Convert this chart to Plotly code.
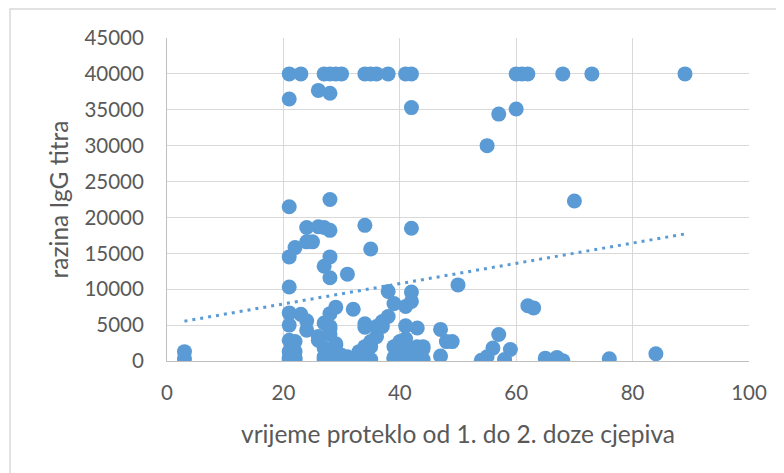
import plotly.graph_objects as go

# days between 1st and 2nd dose, IgG titre level
days = [3, 3,
        21, 21, 21, 21, 21, 21, 21, 21, 21, 21, 21,
        22, 22, 22, 22, 22,
        23, 23,
        24, 24, 24, 24,
        25,
        26, 26, 26, 26,
        27, 27, 27, 27, 27, 27, 27,
        28, 28, 28, 28, 28, 28, 28, 28, 28, 28, 28,
        29, 29, 29, 29, 29,
        30, 30,
        31, 31, 31,
        32,
        33, 33,
        34, 34, 34, 34, 34,
        35, 35, 35, 35, 35,
        36, 36, 36,
        37, 37,
        38, 38, 38,
        39, 39, 39, 39,
        40, 40, 40,
        41, 41, 41, 41, 41, 41,
        42, 42, 42, 42, 42, 42, 42, 42,
        43, 43, 43,
        44, 44, 44,
        47, 47,
        48, 49, 50,
        54, 55, 55, 56, 57, 57, 58, 59,
        60, 60, 61, 62, 62, 63,
        65, 67, 68, 68, 70, 73, 76, 84, 89]
titre = [1300, 300,
         40000, 36500, 21500, 14500, 10300, 6700, 5000, 2900, 1300, 500, 200,
         15800, 2700, 1300, 500, 200,
         40000, 6500,
         18600, 16600, 5600, 4300,
         16600,
         37700, 18700, 3400, 2900,
         40000, 18600, 13200, 5300, 1800, 600, 200,
         40000, 37300, 22500, 18200, 14500, 11600, 6600, 4800, 4500, 3700, 400,
         40000, 7500, 2400, 2200, 600,
         40000, 800,
         12100, 600, 200,
         7200,
         1300, 800,
         40000, 18900, 5200, 4700, 2000,
         40000, 15600, 2700, 2000, 200,
         40000, 4800, 3400,
         5500, 4800,
         40000, 9700, 6200,
         8000, 2000, 500, 300,
         2700, 1000, 400,
         40000, 7600, 4900, 3100, 1900, 400,
         40000, 35300, 18500, 9600, 8300, 1300, 800, 500,
         4600, 2000, 1300,
         2000, 1700, 200,
         4400, 700,
         2700, 2700, 10600,
         100, 30000, 600, 1800, 34400, 3700, 200, 1600,
         40000, 35100, 40000, 40000, 7700, 7400,
         400, 500, 40000, 50, 22300, 40000, 300, 1000, 40000]

# linear trendline endpoints
trend_x = [3, 89]
trend_y = [5550, 17700]

x_ticks = [0, 20, 40, 60, 80, 100]
y_ticks = [0, 5000, 10000, 15000, 20000, 25000, 30000, 35000, 40000, 45000]

blue = "#5B9BD5"
grey_text = "#595959"
grid = "#d9d9d9"
font_family = "Lato, 'Open Sans', sans-serif"

fig = go.Figure()
fig.add_trace(go.Scatter(
    x=trend_x, y=trend_y, mode="lines",
    line=dict(color=blue, width=3, dash="3px,5px"),
    hoverinfo="skip", showlegend=False))
fig.add_trace(go.Scatter(
    x=days, y=titre, mode="markers",
    marker=dict(color=blue, size=15, line=dict(width=0)),
    showlegend=False))

# page has an 8px body margin; these are figure coordinates
L, R, T, B = 159, 43, 30, 120
W, H = 784, 473
pw, ph = W - L - R, H - T - B

fig.update_layout(
    width=W, height=H,
    margin=dict(l=L, r=R, t=T, b=B),
    paper_bgcolor="white", plot_bgcolor="white",
    font=dict(family=font_family, color=grey_text, size=16),
    shapes=[dict(type="rect", xref="paper", yref="paper",
                 x0=(2 - L) / pw, x1=(W + 20 - L) / pw,
                 y0=(T + ph - (H + 20)) / ph, y1=(T + ph - 1) / ph,
                 line=dict(color=grid, width=1.5), fillcolor="rgba(0,0,0,0)",
                 layer="below")],
)
fig.update_xaxes(
    range=[0, 100], tickvals=x_ticks, ticktext=[str(v) for v in x_ticks],
    showgrid=True, gridcolor=grid, gridwidth=1,
    zeroline=False, showline=True, linecolor="#bfbfbf", linewidth=1,
    ticks="", tickfont=dict(size=20.5, color=grey_text), ticklabelstandoff=13,
    title=dict(text="vrijeme proteklo od 1. do 2. doze cjepiva",
               font=dict(size=24.5, color=grey_text), standoff=23),
)
fig.update_yaxes(
    range=[0, 45000], tickvals=y_ticks, ticktext=[str(v) for v in y_ticks],
    showgrid=True, gridcolor=grid, gridwidth=1,
    zeroline=False, showline=True, linecolor="#bfbfbf", linewidth=1,
    ticks="", tickfont=dict(size=20.5, color=grey_text), ticklabelstandoff=18,
    title=dict(text="razina IgG titra", font=dict(size=24.5, color=grey_text),
               standoff=8),
)

fig.write_html("out.html")
